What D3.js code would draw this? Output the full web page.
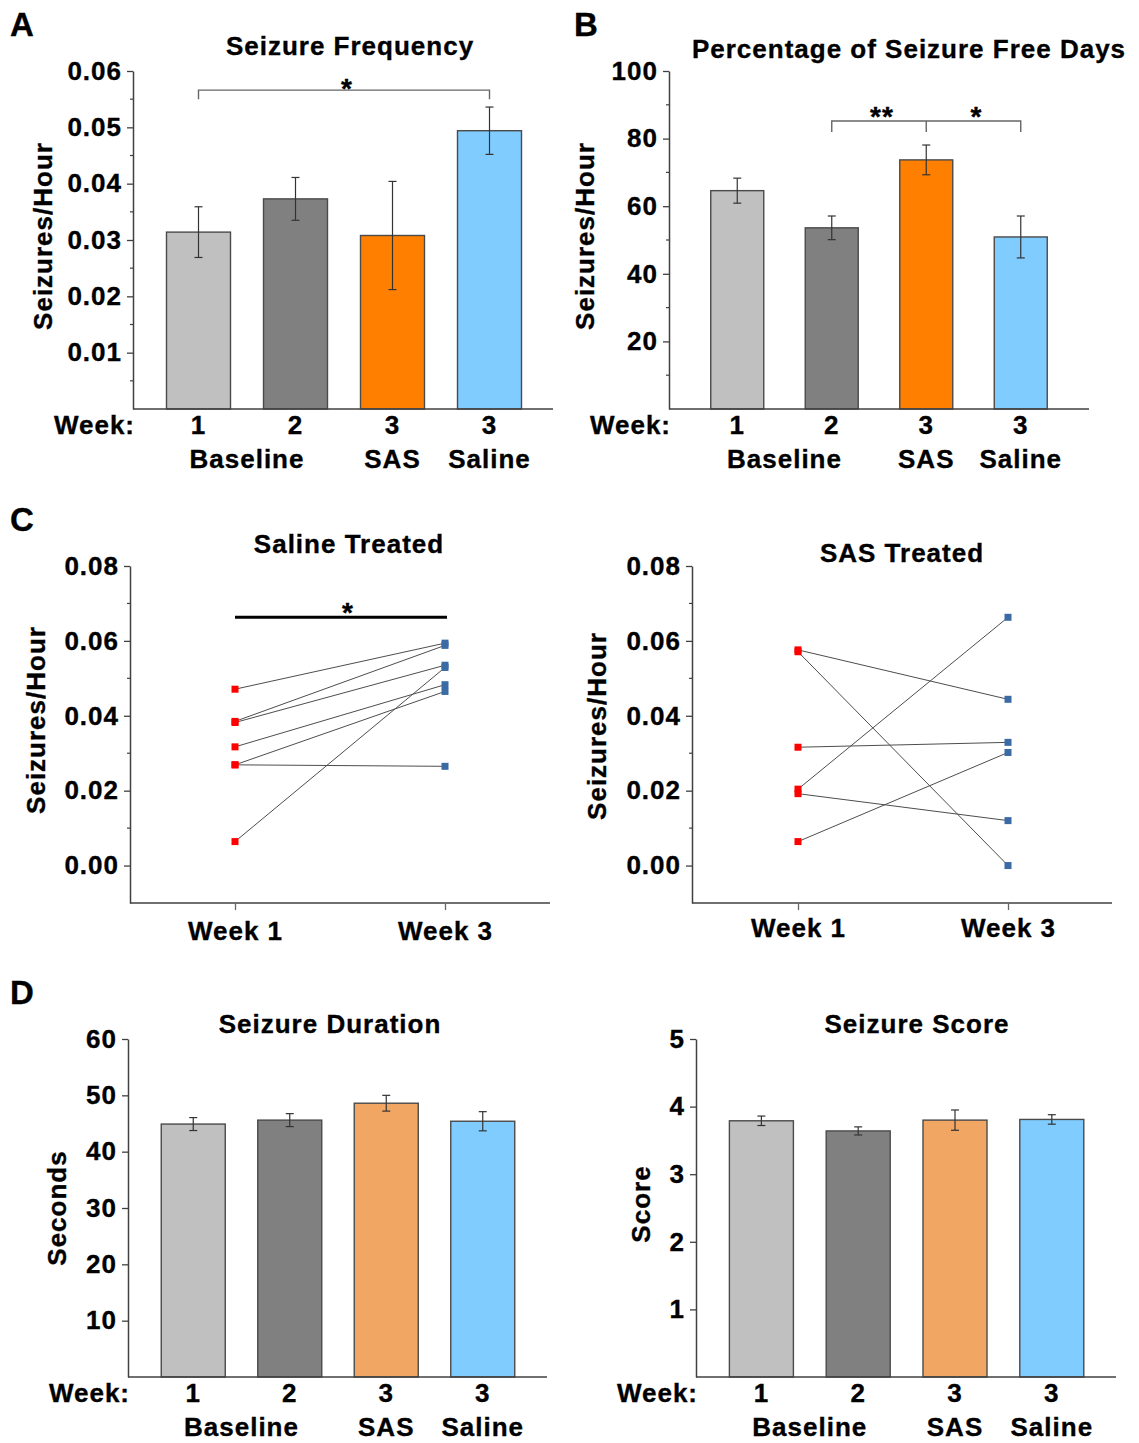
<!DOCTYPE html>
<html>
<head>
<meta charset="utf-8">
<script src="https://cdn.jsdelivr.net/npm/d3@7"></script>
<style>
  body { margin: 0; background: #fff; }
  svg text { font-family: "Liberation Sans", Arial, sans-serif; font-weight: bold; fill: #000; stroke: #000; stroke-width: 0.35px; }
</style>
</head>
<body>
<svg id="fig" width="1139" height="1443"></svg>
<script>
// groups shared by the bar panels
const groups = ["wk1", "wk2", "sas", "saline"];
const weekLabels = ["1", "2", "3", "3"];
const groupNames = [
  { text: "Baseline", of: ["wk1", "wk2"] },
  { text: "SAS", of: ["sas"] },
  { text: "Saline", of: ["saline"] }
];
const barColors = ["#c0c0c0", "#808080", "#ff8000", "#80ccff"];
const barColorsD = ["#c0c0c0", "#808080", "#f2a664", "#80ccff"];

// A: seizure frequency
const freqMean = [0.0314, 0.0373, 0.0308, 0.0494];
const freqErr = [0.0045, 0.0038, 0.0096, 0.0042];
// B: percentage of seizure free days
const freeMean = [64.6, 53.6, 73.7, 50.9];
const freeErr = [3.7, 3.5, 4.4, 6.2];
// D: duration and score
const durMean = [44.9, 45.6, 48.6, 45.4];
const durErr = [1.15, 1.15, 1.4, 1.7];
const scoreMean = [3.79, 3.64, 3.80, 3.81];
const scoreErr = [0.07, 0.06, 0.15, 0.07];

// C: individual animals, week 1 -> week 3
const weeks = ["Week 1", "Week 3"];
const salineWk1 = [0.0471, 0.0385, 0.0382, 0.0317, 0.0269, 0.0269, 0.0064];
const salineWk3 = [0.0594, 0.0588, 0.0535, 0.0483, 0.0465, 0.0265, 0.0529];
const sasWk1 = [0.0576, 0.0571, 0.0316, 0.0204, 0.0192, 0.0064];
const sasWk3 = [0.0444, 0.0000, 0.0329, 0.0663, 0.0120, 0.0302];

const svg = d3.select("#fig");
const FS = 26;
const AXIS = "#404040";

function txt(sel, size) {
  return sel.attr("font-size", size || FS).attr("letter-spacing", "1px");
}

function label(g, x, y, s, anchor, size) {
  return txt(g.append("text"), size).attr("x", x).attr("y", y)
    .attr("text-anchor", anchor || "middle").text(s);
}

function yLabel(g, x, cy, s) {
  txt(g.append("text"))
    .attr("transform", `translate(${x},${cy}) rotate(-90)`)
    .attr("text-anchor", "middle").text(s);
}

function yAxis(g, y, x0, ticks, minor, fmt) {
  const ax = g.append("g").attr("transform", `translate(${x0},0)`)
    .call(d3.axisLeft(y).tickValues(ticks).tickFormat(fmt)
      .tickSize(6).tickSizeOuter(0).tickPadding(5));
  ax.attr("font-size", FS);
  ax.select(".domain").attr("stroke", AXIS).attr("stroke-width", 1.5);
  ax.selectAll(".tick line").attr("stroke", AXIS).attr("stroke-width", 1.3);
  ax.selectAll(".tick text").call(txt).attr("fill", "#000");
  g.append("g").selectAll("line").data(minor || []).join("line")
    .attr("x1", x0 - 3).attr("x2", x0)
    .attr("y1", d => y(d)).attr("y2", d => y(d))
    .attr("stroke", AXIS).attr("stroke-width", 1.2);
}

function barPanel(p) {
  const g = svg.append("g");
  const pad = 1 - p.bw / p.step;
  const x = d3.scaleBand().domain(groups)
    .range([p.bandStart, p.bandStart + groups.length * p.step])
    .paddingInner(pad).paddingOuter(pad / 2);
  const y = d3.scaleLinear().domain(p.domain).range([p.y0, p.y1]);
  const cx = d => x(d) + x.bandwidth() / 2;

  g.selectAll("rect").data(p.mean).join("rect")
    .attr("x", (d, i) => x(groups[i]))
    .attr("y", d => y(d))
    .attr("width", x.bandwidth())
    .attr("height", d => y(0) - y(d))
    .attr("fill", (d, i) => p.colors[i])
    .attr("stroke", "#4a4a4a").attr("stroke-width", 1.4);

  const err = g.selectAll("g.err").data(p.mean).join("g").attr("class", "err")
    .attr("stroke", "#333").attr("stroke-width", 1.2);
  err.append("line")
    .attr("x1", (d, i) => cx(groups[i])).attr("x2", (d, i) => cx(groups[i]))
    .attr("y1", (d, i) => y(d - p.err[i])).attr("y2", (d, i) => y(d + p.err[i]));
  [-1, 1].forEach(s => {
    err.append("line")
      .attr("x1", (d, i) => cx(groups[i]) - 4).attr("x2", (d, i) => cx(groups[i]) + 4)
      .attr("y1", (d, i) => y(d + s * p.err[i])).attr("y2", (d, i) => y(d + s * p.err[i]));
  });

  yAxis(g, y, p.axisX, p.ticks, p.minor, p.fmt);

  // x axis
  g.append("line").attr("x1", p.axisX).attr("x2", p.xEnd)
    .attr("y1", p.y0).attr("y2", p.y0)
    .attr("stroke", AXIS).attr("stroke-width", 1.5);
  const xa = g.append("g").attr("transform", `translate(0,${p.y0})`)
    .call(d3.axisBottom(x).tickFormat((d, i) => weekLabels[i]).tickSize(0).tickPadding(7));
  xa.attr("font-size", FS);
  xa.select(".domain").remove();
  xa.selectAll(".tick text").call(txt).attr("fill", "#000");
  label(g, p.axisX + 2, p.y0 + 25, "Week:", "end");
  groupNames.forEach(n => {
    label(g, d3.mean(n.of, cx), p.y0 + 59, n.text);
  });

  label(g, p.title[0], p.title[1], p.titleText);
  yLabel(g, p.ylab[0], p.ylab[1], p.ylabText);

  // significance brackets
  (p.brackets || []).forEach(b => {
    const yb = y(b.level);
    const xs = b.at.map(cx);
    const path = d3.path();
    path.moveTo(xs[0], yb + b.drop);
    path.lineTo(xs[0], yb);
    path.lineTo(xs[xs.length - 1], yb);
    path.lineTo(xs[xs.length - 1], yb + b.drop);
    xs.slice(1, -1).forEach(xm => { path.moveTo(xm, yb); path.lineTo(xm, yb + b.drop); });
    g.append("path").attr("d", path.toString()).attr("fill", "none")
      .attr("stroke", "#666").attr("stroke-width", 1.4);
    b.stars.forEach(s => {
      label(g, (cx(s.between[0]) + cx(s.between[1])) / 2 + 3, yb + b.starDy, s.text, "middle", 28);
    });
  });
}

function pairPanel(p) {
  const g = svg.append("g");
  const x = d3.scalePoint().domain(weeks).range([p.px0, p.px1]);
  const y = d3.scaleLinear().domain([-0.01, 0.08]).range([903, 566]);

  yAxis(g, y, p.axisX, [0, 0.02, 0.04, 0.06, 0.08], [0.01, 0.03, 0.05, 0.07], d3.format(".2f"));

  g.append("line").attr("x1", p.axisX).attr("x2", p.xEnd)
    .attr("y1", y(-0.01)).attr("y2", y(-0.01))
    .attr("stroke", AXIS).attr("stroke-width", 1.5);
  const xa = g.append("g").attr("transform", `translate(0,${y(-0.01)})`)
    .call(d3.axisBottom(x).tickSize(7).tickPadding(p.wkPad));
  xa.attr("font-size", FS);
  xa.select(".domain").remove();
  xa.selectAll(".tick line").attr("stroke", "#666").attr("stroke-width", 1.3);
  xa.selectAll(".tick text").call(txt).attr("fill", "#000");

  const pairs = p.wk1.map((v, i) => [v, p.wk3[i]]);
  g.selectAll("line.pair").data(pairs).join("line").attr("class", "pair")
    .attr("x1", x(weeks[0])).attr("x2", x(weeks[1]))
    .attr("y1", d => y(d[0])).attr("y2", d => y(d[1]))
    .attr("stroke", "#4d4d4d").attr("stroke-width", 1);
  const m = 7;
  g.selectAll("rect.w1").data(p.wk1).join("rect").attr("class", "w1")
    .attr("x", x(weeks[0]) - m / 2).attr("y", d => y(d) - m / 2)
    .attr("width", m).attr("height", m).attr("fill", "#ff0000");
  g.selectAll("rect.w3").data(p.wk3).join("rect").attr("class", "w3")
    .attr("x", x(weeks[1]) - m / 2).attr("y", d => y(d) - m / 2)
    .attr("width", m).attr("height", m).attr("fill", "#3b6ba5");

  if (p.sig) {
    g.append("line").attr("x1", x(weeks[0])).attr("x2", x(weeks[1]) + 2)
      .attr("y1", y(p.sig)).attr("y2", y(p.sig))
      .attr("stroke", "#000").attr("stroke-width", 3);
    label(g, (x(weeks[0]) + x(weeks[1])) / 2 + 8, y(p.sig) + 5, "*", "middle", 28);
  }

  label(g, p.title[0], p.title[1], p.titleText);
  yLabel(g, p.ylab[0], p.ylab[1], "Seizures/Hour");
}

// panel letters
[["A", 10, 36], ["B", 574, 36], ["C", 10, 531], ["D", 10, 1004]].forEach(d => {
  svg.append("text").attr("x", d[1]).attr("y", d[2]).attr("font-size", 33).text(d[0]);
});

barPanel({
  mean: freqMean, err: freqErr, colors: barColors,
  bandStart: 150, step: 97, bw: 64,
  domain: [0, 0.06], y0: 409, y1: 71, axisX: 133, xEnd: 553,
  ticks: [0.01, 0.02, 0.03, 0.04, 0.05, 0.06],
  minor: [0.005, 0.015, 0.025, 0.035, 0.045, 0.055],
  fmt: d3.format(".2f"),
  title: [350, 55], titleText: "Seizure Frequency",
  ylab: [52, 236], ylabText: "Seizures/Hour",
  brackets: [{ at: ["wk1", "saline"], level: 0.0566, drop: 9, starDy: 8,
    stars: [{ text: "*", between: ["wk1", "saline"] }] }]
});

barPanel({
  mean: freeMean, err: freeErr, colors: barColors,
  bandStart: 690, step: 94.5, bw: 53,
  domain: [0, 100], y0: 409, y1: 71, axisX: 669, xEnd: 1089,
  ticks: [20, 40, 60, 80, 100], minor: [10, 30, 50, 70, 90],
  fmt: d3.format("d"),
  title: [909, 58], titleText: "Percentage of Seizure Free Days",
  ylab: [594, 236], ylabText: "Seizures/Hour",
  brackets: [{ at: ["wk2", "sas", "saline"], level: 85.2, drop: 11, starDy: 5,
    stars: [{ text: "**", between: ["wk2", "sas"] }, { text: "*", between: ["sas", "saline"] }] }]
});

pairPanel({
  wk1: salineWk1, wk3: salineWk3, px0: 235, px1: 445,
  axisX: 130, xEnd: 550, wkPad: 12,
  title: [349, 553], titleText: "Saline Treated",
  ylab: [45, 720], sig: 0.0663
});

pairPanel({
  wk1: sasWk1, wk3: sasWk3, px0: 798, px1: 1008,
  axisX: 692, xEnd: 1112, wkPad: 9,
  title: [902, 562], titleText: "SAS Treated",
  ylab: [606, 726]
});

barPanel({
  mean: durMean, err: durErr, colors: barColorsD,
  bandStart: 145, step: 96.5, bw: 64,
  domain: [0, 60], y0: 1377, y1: 1039, axisX: 128, xEnd: 547,
  ticks: [10, 20, 30, 40, 50, 60], minor: [],
  fmt: d3.format("d"),
  title: [330, 1033], titleText: "Seizure Duration",
  ylab: [66, 1208], ylabText: "Seconds"
});

barPanel({
  mean: scoreMean, err: scoreErr, colors: barColorsD,
  bandStart: 713, step: 96.8, bw: 64,
  domain: [0, 5], y0: 1377, y1: 1039, axisX: 696, xEnd: 1116,
  ticks: [1, 2, 3, 4, 5], minor: [],
  fmt: d3.format("d"),
  title: [917, 1033], titleText: "Seizure Score",
  ylab: [650, 1204], ylabText: "Score"
});
</script>
</body>
</html>
